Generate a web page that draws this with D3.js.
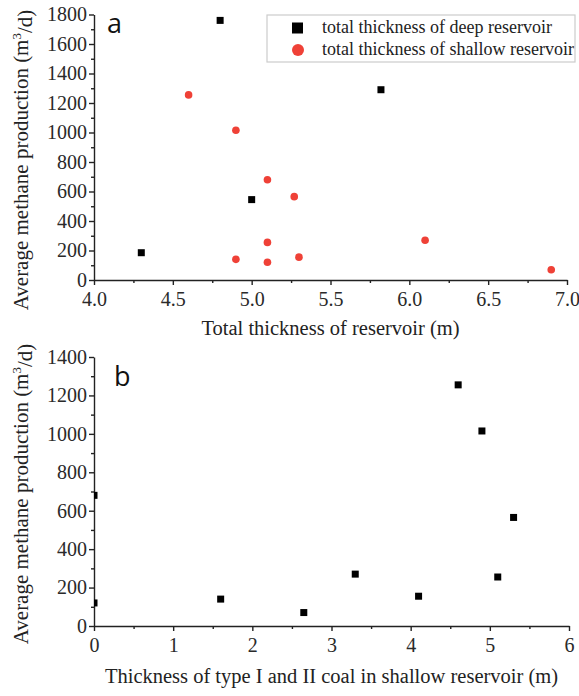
<!DOCTYPE html>
<html>
<head>
<meta charset="utf-8">
<script src="https://cdn.jsdelivr.net/npm/d3@7"></script>
<style>
  body { margin: 0; background: #fff; }
</style>
</head>
<body>
<div id="chart"></div>
<script>
// panel a: total thickness of reservoir vs production
var deepThick = [4.3, 4.8, 5.0, 5.82];
var deepProd = [185, 1760, 545, 1290];
var shallowThick = [4.6, 4.9, 5.1, 5.27, 5.1, 4.9, 5.1, 5.3, 6.1, 6.9];
var shallowProd = [1255, 1015, 680, 565, 255, 140, 120, 155, 270, 70];

// panel b: type I and II coal thickness in shallow reservoir
var coalThick = [0, 0, 1.6, 2.65, 3.3, 4.1, 4.6, 4.9, 5.1, 5.3];
var coalProd = [680, 120, 140, 70, 270, 155, 1255, 1015, 255, 565];

var xTicksA = [4.0, 4.5, 5.0, 5.5, 6.0, 6.5, 7.0];
var yTicksA = [0, 200, 400, 600, 800, 1000, 1200, 1400, 1600, 1800];
var xTicksB = [0, 1, 2, 3, 4, 5, 6];
var yTicksB = [0, 200, 400, 600, 800, 1000, 1200, 1400];

var legendLabels = ["total thickness of deep reservoir", "total thickness of shallow reservoir"];

var W = 579, H = 696;
var red = "#ef4137";
var serif = "Liberation Serif";

var svg = d3.select("#chart").append("svg")
    .attr("width", W)
    .attr("height", H);

function zip(xs, ys) {
    return xs.map(function (x, i) { return { x: x, y: ys[i] }; });
}

function styleAxis(g) {
    g.attr("font-family", serif).attr("font-size", 20);
    g.selectAll("path, line").attr("stroke", "#222").attr("stroke-width", 1.4);
    g.selectAll("text").attr("fill", "#2a2a2a");
}

function panel(opt) {
    var x = d3.scaleLinear().domain(opt.xDomain).range([opt.left, opt.right]);
    var y = d3.scaleLinear().domain(opt.yDomain).range([opt.bottom, opt.top]);

    // minor ticks
    svg.append("g")
        .attr("transform", "translate(0," + opt.bottom + ")")
        .call(d3.axisBottom(x).tickValues(opt.xMinor).tickSize(3).tickSizeOuter(0).tickFormat(""))
        .call(styleAxis)
        .select(".domain").remove();
    svg.append("g")
        .attr("transform", "translate(" + opt.left + ",0)")
        .call(d3.axisLeft(y).tickValues(opt.yMinor).tickSize(3).tickSizeOuter(0).tickFormat(""))
        .call(styleAxis)
        .select(".domain").remove();

    // major ticks
    svg.append("g")
        .attr("transform", "translate(0," + opt.bottom + ")")
        .call(d3.axisBottom(x).tickValues(opt.xTicks).tickSize(5).tickSizeOuter(0).tickPadding(7)
            .tickFormat(opt.xFormat))
        .call(styleAxis);
    svg.append("g")
        .attr("transform", "translate(" + opt.left + ",0)")
        .call(d3.axisLeft(y).tickValues(opt.yTicks).tickSize(5).tickSizeOuter(0).tickPadding(2)
            .tickFormat(d3.format("d")))
        .call(styleAxis);

    // axis titles
    svg.append("text")
        .attr("x", (opt.left + opt.right) / 2)
        .attr("y", opt.xTitleY)
        .attr("text-anchor", "middle")
        .attr("font-family", serif)
        .attr("font-size", 20.5)
        .attr("fill", "#222")
        .text(opt.xTitle);

    var yt = svg.append("text")
        .attr("transform", "translate(28," + opt.yTitleY + ") rotate(-90)")
        .attr("text-anchor", "middle")
        .attr("font-family", serif)
        .attr("font-size", 21)
        .attr("fill", "#222");
    yt.append("tspan").text("Average methane production (m");
    yt.append("tspan").attr("dy", "-0.55em").attr("font-size", 13).text("3");
    yt.append("tspan").attr("dy", "0.55em").text("/d)");

    // panel letter
    svg.append("text")
        .attr("x", opt.letterX)
        .attr("y", opt.letterY)
        .attr("font-family", "Open Sans")
        .attr("font-size", 27)
        .attr("fill", "#111")
        .text(opt.letter);

    var clipId = "clip" + opt.letter;
    svg.append("clipPath").attr("id", clipId)
        .append("rect")
        .attr("x", opt.left).attr("y", opt.top - 10)
        .attr("width", opt.right - opt.left + 10)
        .attr("height", opt.bottom - opt.top + 10);

    return { x: x, y: y, plot: svg.append("g").attr("clip-path", "url(#" + clipId + ")") };
}

function squares(p, data) {
    p.plot.selectAll(null)
        .data(data)
        .enter()
        .append("rect")
        .attr("x", function (d) { return p.x(d.x) - 3.5; })
        .attr("y", function (d) { return p.y(d.y) - 3.5; })
        .attr("width", 7)
        .attr("height", 7)
        .attr("fill", "#000");
}

function circles(p, data) {
    p.plot.selectAll(null)
        .data(data)
        .enter()
        .append("circle")
        .attr("cx", function (d) { return p.x(d.x); })
        .attr("cy", function (d) { return p.y(d.y); })
        .attr("r", 3.8)
        .attr("fill", red);
}

// ---- panel a
var pa = panel({
    letter: "a", letterX: 107, letterY: 33,
    xDomain: [4, 7], yDomain: [0, 1800],
    left: 94, right: 567, top: 14.5, bottom: 280,
    xTicks: xTicksA, yTicks: yTicksA,
    xMinor: d3.range(4.25, 7, 0.5), yMinor: d3.range(100, 1800, 200),
    xFormat: d3.format(".1f"),
    xTitle: "Total thickness of reservoir (m)", xTitleY: 335,
    yTitleY: 160
});
squares(pa, zip(deepThick, deepProd));
circles(pa, zip(shallowThick, shallowProd));

// legend
var lg = svg.append("g");
lg.append("rect")
    .attr("x", 267).attr("y", 15)
    .attr("width", 308).attr("height", 47)
    .attr("fill", "#fff")
    .attr("stroke", "#ccc")
    .attr("stroke-width", 1.2);
lg.append("rect")
    .attr("x", 292).attr("y", 22.5)
    .attr("width", 11).attr("height", 11)
    .attr("fill", "#000");
lg.append("circle")
    .attr("cx", 298).attr("cy", 50)
    .attr("r", 6)
    .attr("fill", red);
lg.selectAll(".lgtext")
    .data(legendLabels)
    .enter()
    .append("text")
    .attr("class", "lgtext")
    .attr("x", 322)
    .attr("y", function (d, i) { return 33 + i * 22; })
    .attr("font-family", serif)
    .attr("font-size", 18)
    .attr("fill", "#222")
    .text(function (d) { return d; });

// ---- panel b
var pb = panel({
    letter: "b", letterX: 114, letterY: 386,
    xDomain: [0, 6], yDomain: [0, 1400],
    left: 94, right: 569, top: 357, bottom: 626,
    xTicks: xTicksB, yTicks: yTicksB,
    xMinor: d3.range(0.5, 6, 1), yMinor: d3.range(100, 1400, 200),
    xFormat: d3.format("d"),
    xTitle: "Thickness of type I and II coal in shallow reservoir (m)", xTitleY: 683,
    yTitleY: 494
});
squares(pb, zip(coalThick, coalProd));
</script>
</body>
</html>
